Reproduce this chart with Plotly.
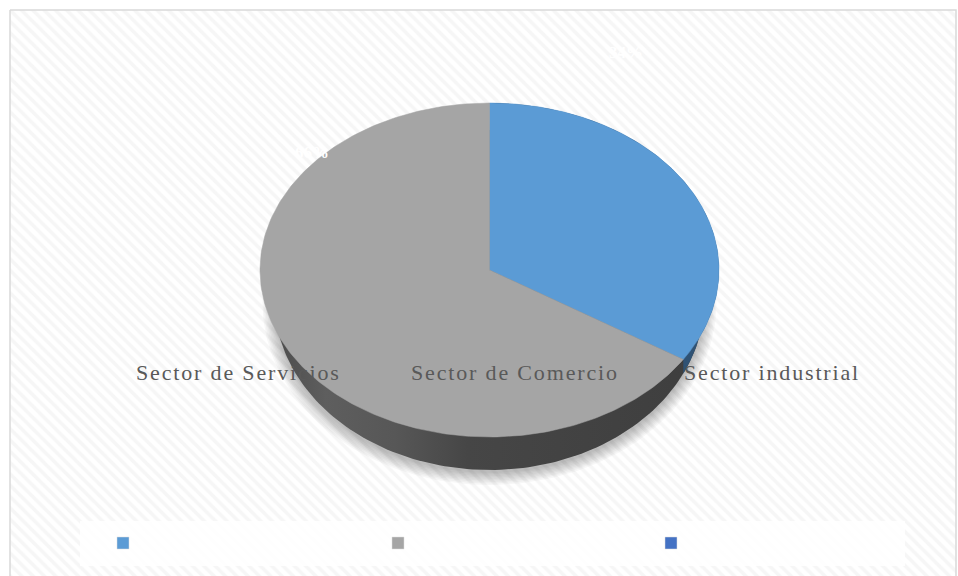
import numpy as np
import plotly.graph_objects as go

# Sector shares (percent) and series styling
categories = ["Sector de Servicios", "Sector de Comercio", "Sector industrial"]
values = [34, 66, 0]
top_colors = ["#5B9BD5", "#A5A5A5", "#4472C4"]
side_colors = ["#2F5274", "#404040", "#28427A"]

W, H = 958, 576
# top face ellipse
cx, cy, rx, ry = 489.5, 270.0, 229.5, 167.0
# bottom face ellipse (slightly narrower, seen in perspective)
bcy, brx, bry = 300.0, 215.0, 170.0


def top_pt(theta_deg):
    t = np.radians(theta_deg)
    return cx + rx * np.sin(t), cy - ry * np.cos(t)


def bot_pt(theta_deg, grow=0.0, dy=0.0):
    t = np.radians(theta_deg)
    return cx + (brx + grow) * np.sin(t), bcy + dy - (bry + grow) * np.cos(t)


fig = go.Figure()

# chart area with diagonal hatching
fig.add_trace(go.Scatter(
    x=[10, 956, 956, 10, 10], y=[10, 10, 590, 590, 10], mode="lines",
    fill="toself", fillcolor="white",
    fillpattern=dict(shape="\\", fgcolor="#eeeeee", bgcolor="white", size=8, solidity=0.45),
    line=dict(color="#d9d9d9", width=1.5), hoverinfo="skip", showlegend=False))

# soft shadow under the pie
full = np.linspace(0, 360, 241)
for k in range(9):
    xs, ys = bot_pt(full, grow=1.5 * k, dy=3)
    fig.add_trace(go.Scatter(x=xs, y=ys, mode="lines", fill="toself",
                             fillcolor="rgba(0,0,0,0.03)", line=dict(width=0),
                             hoverinfo="skip", showlegend=False))

# slice angular ranges, clockwise from 12 o'clock
total = sum(values)
bounds = np.concatenate([[0], np.cumsum(values) / total * 360])

# side wall: whole bottom face in the dominant slice's shade
side_shade = [[0.0, "#4c4c4c"], [0.12, "#5e5e5e"], [0.28, "#575757"],
              [0.45, "#464646"], [1.0, "#3e3e3e"]]
xs, ys = bot_pt(full)
fig.add_trace(go.Scatter(x=xs, y=ys, mode="lines", fill="toself", line=dict(width=0),
                         fillgradient=dict(type="horizontal", colorscale=side_shade),
                         hoverinfo="skip", showlegend=False))

# side wall of the first slice, cut vertically below its split point
split = bounds[1]
sx, sy = top_pt(split)
tb = 180 - np.degrees(np.arcsin(np.clip((sx - cx) / brx, -1, 1)))
bx, by = bot_pt(np.linspace(0, tb, 120))
tx, ty = top_pt(np.linspace(split, 0, 120))
fig.add_trace(go.Scatter(x=np.r_[bx, tx], y=np.r_[by, ty], mode="lines", fill="toself",
                         fillcolor=side_colors[0], line=dict(width=0),
                         hoverinfo="skip", showlegend=False))

# top face
for i in range(len(values)):
    if values[i] <= 0:
        continue
    th = np.linspace(bounds[i], bounds[i + 1], 240)
    xs, ys = top_pt(th)
    fig.add_trace(go.Scatter(x=np.r_[cx, xs, cx], y=np.r_[cy, ys, cy], mode="lines",
                             fill="toself", fillcolor=top_colors[i],
                             line=dict(color=top_colors[i], width=0.5),
                             hoverinfo="skip", showlegend=False))

# data labels (white, bold)
label_pos = [(626, 52), (312, 152)]
for i, (lx, ly) in enumerate(label_pos):
    fig.add_annotation(x=lx, y=ly, text="<b>%d%%</b>" % values[i], showarrow=False,
                       font=dict(family="Liberation Serif", size=17, color="white"))

# legend band
fig.add_shape(type="rect", x0=80, x1=905, y0=521, y1=566, fillcolor="rgba(255,255,255,0.85)",
              line=dict(width=0), layer="above")
legend_x = [123, 398, 671]
hair = "\u200a"
for i, name in enumerate(categories):
    fig.add_shape(type="rect", x0=legend_x[i] - 6, x1=legend_x[i] + 6, y0=537, y1=549,
                  fillcolor=top_colors[i], line=dict(color="#dddddd", width=0.5), layer="above")
    fig.add_annotation(x=legend_x[i] + 11, y=372, text=hair.join(name), showarrow=False,
                       xanchor="left", font=dict(family="Liberation Serif", size=22, color="#595959"))

fig.update_layout(
    width=W, height=H, margin=dict(l=0, r=0, t=0, b=0),
    paper_bgcolor="white", plot_bgcolor="white", showlegend=False,
    xaxis=dict(range=[0, W], visible=False, fixedrange=True),
    yaxis=dict(range=[H, 0], visible=False, fixedrange=True),
)
fig.write_html("out.html")
